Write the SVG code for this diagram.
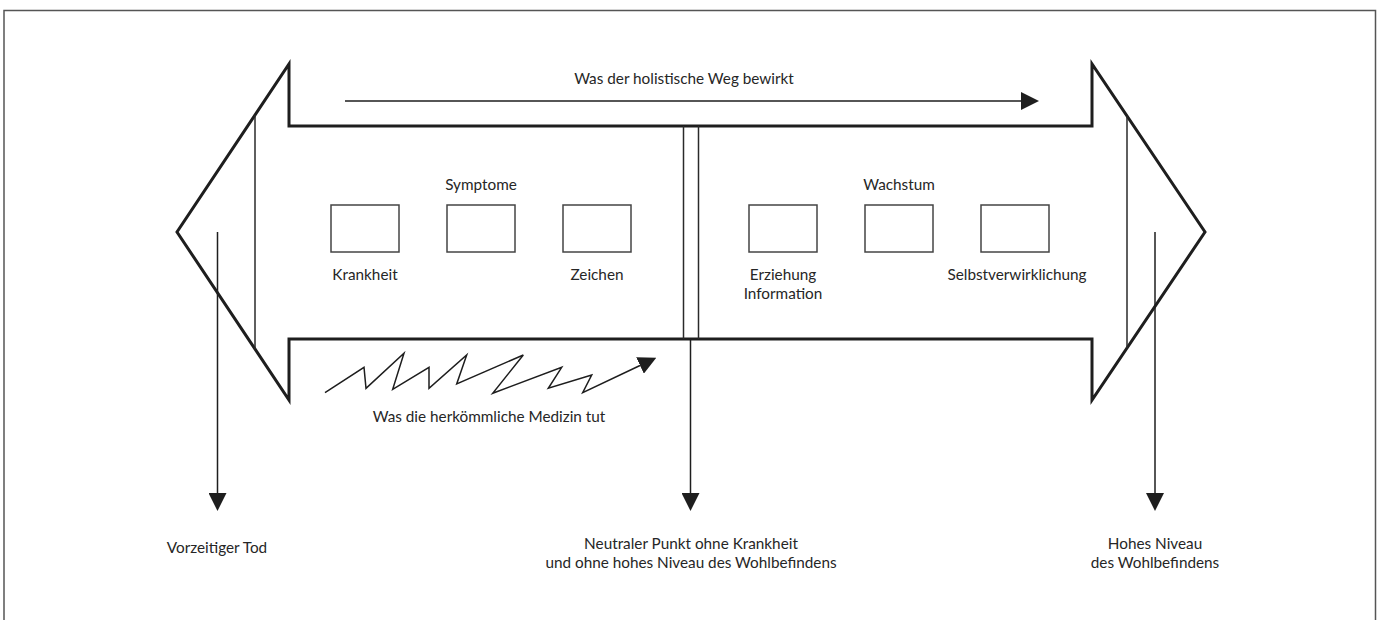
<svg xmlns="http://www.w3.org/2000/svg" width="1380" height="620" viewBox="0 0 1380 620">
  <defs>
    <style>
      .frame { fill: none; stroke: #555; stroke-width: 1.5; }
      .outline { fill: none; stroke: #1e1e1e; stroke-width: 3; stroke-linejoin: miter; }
      .thin { fill: none; stroke: #2a2a2a; stroke-width: 1.5; }
      .box { fill: #fff; stroke: #444; stroke-width: 1.5; }
      .conn { fill: none; stroke: #1e1e1e; stroke-width: 1.5; }
      .head { fill: #1e1e1e; }
      text { font-family: Lato, "Liberation Sans", sans-serif; font-size: 15.3px; fill: #262626; text-anchor: middle; }
    </style>
    <marker id="tri" viewBox="0 0 18 18" refX="0" refY="9" markerWidth="18" markerHeight="18" markerUnits="userSpaceOnUse" orient="auto">
      <path d="M0,0 L18,9 L0,18 Z" class="head"/>
    </marker>
  </defs>

  <rect width="1380" height="620" fill="#fff"/>

  <!-- page frame, open at the bottom -->
  <path class="frame" d="M4,630 V10.5 H1375.5 V630"/>

  <!-- double-headed arrow body -->
  <g id="double-arrow">
    <path class="outline" d="M289,126 V64 L177,232 L289,400 V339 H1092 V400 L1205,232 L1092,64 V126 Z"/>
    <line class="thin" x1="255" y1="115" x2="255" y2="349"/>
    <line class="thin" x1="1127" y1="116" x2="1127" y2="348"/>
    <line class="thin" x1="683.5" y1="126" x2="683.5" y2="339"/>
    <line class="thin" x1="698.5" y1="126" x2="698.5" y2="339"/>
  </g>

  <!-- left half: illness side -->
  <g id="symptome">
    <text x="481" y="190">Symptome</text>
  </g>
  <g id="krankheit">
    <rect class="box" x="331" y="205" width="68" height="47"/>
    <text x="365" y="280">Krankheit</text>
  </g>
  <g id="symptom-mitte">
    <rect class="box" x="447" y="205" width="68" height="47"/>
  </g>
  <g id="zeichen">
    <rect class="box" x="563" y="205" width="68" height="47"/>
    <text x="597" y="280">Zeichen</text>
  </g>

  <!-- right half: wellness side -->
  <g id="wachstum">
    <text x="899" y="190">Wachstum</text>
  </g>
  <g id="erziehung">
    <rect class="box" x="749" y="205" width="68" height="47"/>
    <text x="783" y="280">Erziehung</text>
    <text x="783" y="299">Information</text>
  </g>
  <g id="wachstum-mitte">
    <rect class="box" x="865" y="205" width="68" height="47"/>
  </g>
  <g id="selbstverwirklichung">
    <rect class="box" x="981" y="205" width="68" height="47"/>
    <text x="1017" y="280">Selbstverwirklichung</text>
  </g>

  <!-- captions -->
  <g id="holistisch">
    <text x="684" y="84">Was der holistische Weg bewirkt</text>
  </g>
  <g id="medizin">
    <text x="489" y="422">Was die herkömmliche Medizin tut</text>
  </g>
  <g id="tod">
    <text x="217" y="553">Vorzeitiger Tod</text>
  </g>
  <g id="neutral">
    <text x="691" y="549">Neutraler Punkt ohne Krankheit</text>
    <text x="691" y="568">und ohne hohes Niveau des Wohlbefindens</text>
  </g>
  <g id="hohes-niveau">
    <text x="1155" y="549">Hohes Niveau</text>
    <text x="1155" y="568">des Wohlbefindens</text>
  </g>

  <!-- connectors -->
  <g id="connectors">
    <line class="conn" x1="345" y1="101" x2="1021" y2="101" marker-end="url(#tri)"/>
    <polyline class="conn" points="325,392.7 364,367.3 366,388.3 404,353.3 392.7,389.3 429,367.3 429,388.3 466.7,355 456.7,384 523.3,355 492.7,393.3 561.7,367.3 548.3,388.3 591.7,375 582.7,392.7 640,365.5" marker-end="url(#tri)"/>
    <line class="conn" x1="217.5" y1="232" x2="217.5" y2="493" marker-end="url(#tri)"/>
    <line class="conn" x1="690.5" y1="339" x2="690.5" y2="493" marker-end="url(#tri)"/>
    <line class="conn" x1="1155" y1="232" x2="1155" y2="493" marker-end="url(#tri)"/>
  </g>
</svg>
